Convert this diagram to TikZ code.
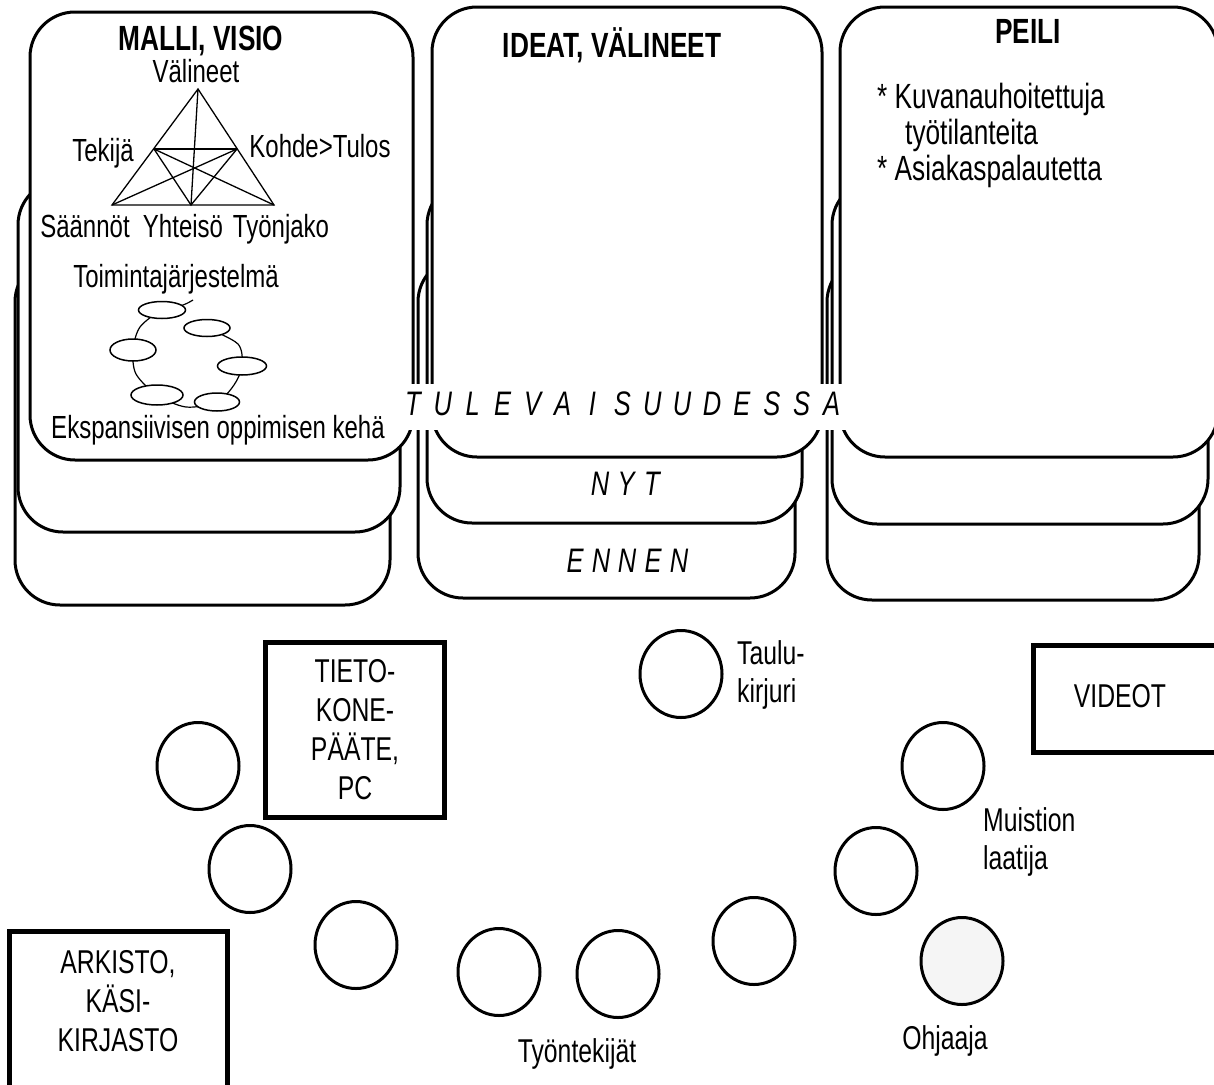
\documentclass[tikz,border=0pt]{standalone}
\usepackage{fontspec}
\setmainfont{Liberation Sans}[FakeStretch=0.75]
\usetikzlibrary{shapes.geometric}

\begin{document}
\begin{tikzpicture}[x=1pt,y=-1pt,
    card/.style={draw,line width=3pt,fill=white,rounded corners=45pt},
    title/.style={font=\fontsize{35}{38}\selectfont\bfseries,anchor=base,inner sep=0pt},
    lab/.style={font=\fontsize{32}{36}\selectfont,anchor=base,inner sep=0pt},
    big/.style={font=\fontsize{33}{38}\selectfont,inner sep=0pt,align=left},
    spaced/.style={font=\fontsize{34}{38}\selectfont\itshape,anchor=base,inner sep=0pt},
    tri/.style={line width=1.3pt},
    blob/.style={draw,line width=1.5pt,fill=white},
    seat/.style={draw,ellipse,line width=3pt,minimum width=82pt,minimum height=87pt,inner sep=0pt},
    boxline/.style={draw,line width=5pt}]
    \useasboundingbox (0,0) rectangle (1214,1084);

    % kortit, takimmainen ensin
    \draw[card] (15,257) rectangle (390,605);
    \draw[card] (18,180) rectangle (400,532);
    \draw[card] (30,12) rectangle (413,460);
    \draw[card] (418,257) rectangle (795,598);
    \draw[card] (427,180) rectangle (802,523);
    \draw[card] (432,7) rectangle (822,457);
    \draw[card] (827,257) rectangle (1199,600);
    \draw[card] (832,180) rectangle (1208,524);
    \draw[card] (840,7) rectangle (1218,457);

    \fill[white] (404,384) rectangle (849,430);
    \foreach \ch [count=\i] in {T,U,L,E,V,A,I,S,U,U,D,E,S,S,A}
        \node[spaced] (tul\i) at ({413+29.9*(\i-1)},415) {\ch};
    \foreach \ch [count=\i] in {N,Y,T}
        \node[spaced] (nyt\i) at ({600+26*(\i-1)},495) {\ch};
    \foreach \ch [count=\i] in {E,N,N,E,N}
        \node[spaced] (enn\i) at ({575+26*(\i-1)},572) {\ch};

    \node[title] (malli) at (201,50) {MALLI, VISIO};
    \node[title] (ideat) at (612,57) {IDEAT, VÄLINEET};
    \node[title] (peili) at (1028,43) {PEILI};

    \coordinate (vali) at (198,89);
    \coordinate (teki) at (154,149);
    \coordinate (kohde) at (237,149);
    \coordinate (saan) at (112,205);
    \coordinate (yht) at (191,205);
    \coordinate (tyon) at (274,205);
    \draw[tri] (vali) -- (saan) -- (tyon) -- cycle;
    \draw[tri] (teki) -- (kohde);
    \draw[tri] (vali) -- (yht);
    \draw[tri] (teki) -- (yht) -- (kohde);
    \draw[tri] (teki) -- (tyon);
    \draw[tri] (kohde) -- (saan);
    \node[lab] (lvali) at (196,82) {Välineet};
    \node[lab] (lteki) at (103,161) {Tekijä};
    \node[lab] (lkohde) at (320,157) {Kohde>Tulos};
    \node[lab] (lsaan) at (85,237) {Säännöt};
    \node[lab] (lyht) at (183,237) {Yhteisö};
    \node[lab] (ltyon) at (281,237) {Työnjako};
    \node[lab] (toim) at (176,287) {Toimintajärjestelmä};

    \draw[line width=1.2pt] plot[smooth] coordinates {(207,328) (238,344) (242,366) (234,385)
        (217,402) (186,407) (157,395) (136,374) (133,350) (140,327) (162,310) (183,305) (193,300)};
    \foreach \cx/\cy/\rx/\ry in {162/310/23.5/8.5, 207/328/23/8.5, 133/350/23/11,
        242/366/24.5/9, 157/395/26/10, 217/402/22.5/9}
        \draw[blob] (\cx,\cy) ellipse[x radius=\rx, y radius=\ry];
    \node[lab] (ekspa) at (218,438) {Ekspansiivisen oppimisen kehä};

    \node[font=\fontsize{35}{36}\selectfont,align=left,anchor=north west,inner sep=0pt] (peililist)
        at (877,83) {* Kuvanauhoitettuja\\\hspace*{28pt}työtilanteita\\* Asiakaspalautetta};

    % istujat
    \node[seat] (taulu) at (681,674) {};
    \node[big,anchor=north west] (ltaulu) at (737,640) {Taulu-\\kirjuri};
    \foreach \x/\y [count=\i] in {198/766, 250/869, 356/945, 499/972, 618/974, 754/941, 876/871, 943/766}
        \node[seat] (s\i) at (\x,\y) {};
    \node[seat,fill=black!4] (ohjaaja) at (962,961) {};
    \node[big,anchor=north west] (lmuist) at (983,807) {Muistion\\laatija};
    \node[big,anchor=base] (lohj) at (945,1049) {Ohjaaja};
    \node[big,anchor=base] (ltyo) at (577,1062) {Työntekijät};

    \node[boxline,minimum width=179pt,minimum height=175pt,font=\fontsize{33}{39}\selectfont,
        align=center] (tieto) at (355,730) {TIETO-\\KONE-\\PÄÄTE,\\PC};
    \draw[boxline] (9.5,931.5) rectangle (227.5,1100);
    \node[big,align=center,font=\fontsize{33}{39}\selectfont] (arkisto) at (118,1001) {ARKISTO,\\KÄSI-\\KIRJASTO};
    \draw[boxline] (1033.5,645.5) rectangle (1230,752.5);
    \node[big,anchor=base] (videot) at (1120,707) {VIDEOT};
\end{tikzpicture}
\end{document}
